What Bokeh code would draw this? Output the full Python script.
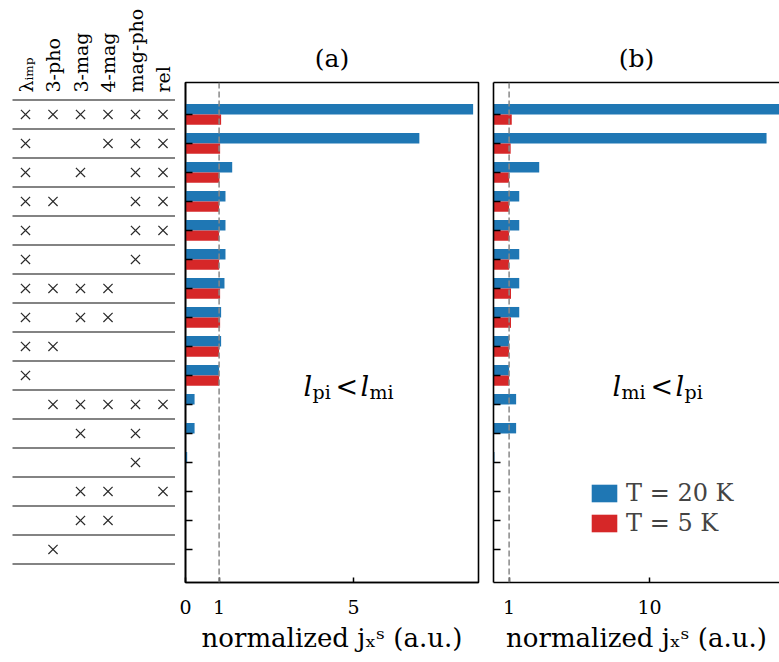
import numpy as np
from bokeh.plotting import figure
from bokeh.models import (Range1d, FixedTicker, Span, Label, Legend, LegendItem,
                          LinearAxis, ColumnDataSource, Title)
from bokeh.layouts import row
from bokeh.embed import file_html
from bokeh.resources import INLINE

# ---------------- data ----------------
mechanisms = ["λᵢₘₚ", "3-pho", "3-mag", "4-mag", "mag-pho", "rel"]
table_marks = [
    [1, 1, 1, 1, 1, 1],
    [1, 0, 0, 1, 1, 1],
    [1, 0, 1, 0, 1, 1],
    [1, 1, 0, 0, 1, 1],
    [1, 0, 0, 0, 1, 1],
    [1, 0, 0, 0, 1, 0],
    [1, 1, 1, 1, 0, 0],
    [1, 0, 1, 1, 0, 0],
    [1, 1, 0, 0, 0, 0],
    [1, 0, 0, 0, 0, 0],
    [0, 1, 1, 1, 1, 1],
    [0, 0, 1, 0, 1, 0],
    [0, 0, 0, 0, 1, 0],
    [0, 0, 1, 1, 0, 1],
    [0, 0, 1, 1, 0, 0],
    [0, 1, 0, 0, 0, 0],
]
rows = list(range(1, 17))

# panel (a): l_pi < l_mi
a_T20 = [8.56, 6.96, 1.39, 1.19, 1.19, 1.19, 1.16, 1.06, 1.06, 1.00, 0.27, 0.27, 0.05, 0, 0, 0]
a_T5 = [1.06, 1.03, 1.01, 1.00, 1.00, 1.00, 1.03, 1.03, 1.00, 1.00, 0, 0, 0, 0, 0, 0]
# panel (b): l_mi < l_pi
b_T20 = [19.0, 17.5, 2.93, 1.65, 1.65, 1.65, 1.65, 1.65, 1.00, 1.00, 1.45, 1.45, 0.06, 0, 0, 0]
b_T5 = [1.17, 1.10, 1.00, 1.00, 1.00, 1.00, 1.12, 1.12, 1.00, 1.00, 0, 0, 0, 0, 0, 0]

a_ticks = [0, 1, 5]
b_ticks = [1, 10]
legend_labels = ["T = 20 K", "T = 5 K"]
panel_titles = ["(a)", "(b)"]
x_label = "normalized jₓˢ (a.u.)"

# ---------------- style / geometry ----------------
FONT = "DejaVu Serif"
BLUE = "#1f77b4"
RED = "#d62728"
H = 662
TOP = 82
BOTTOM = 80
ROW_PX = 29.0
R_TOP = -0.10
R_BOT = R_TOP + (H - TOP - BOTTOM) / ROW_PX


def py2r(py):
    return R_TOP + (py - TOP) / ROW_PX


# ---------------- table ----------------
TW = 175
t = figure(width=TW, height=H, x_range=Range1d(0, TW), y_range=Range1d(R_BOT, R_TOP),
           x_axis_type=None, y_axis_type=None, title=None,
           min_border_left=0, min_border_right=0, min_border_top=TOP,
           min_border_bottom=BOTTOM, output_backend="svg", toolbar_location=None)
t.grid.visible = False
t.outline_line_color = None

col_x = [25 + 27.5 * j for j in range(len(mechanisms))]
line_y = [r + 0.5 for r in range(0, len(rows) + 1)]
t.segment(x0=[12] * len(line_y), x1=[TW] * len(line_y), y0=line_y, y1=line_y,
          line_color="#5a5a5a", line_width=1.5)

mx, my = [], []
for i, marks in enumerate(table_marks):
    for j, m in enumerate(marks):
        if m:
            mx.append(col_x[j])
            my.append(rows[i])
t.scatter(mx, my, marker="x", size=13, line_color="#2b2b2b", line_width=1.2)

head_ax = LinearAxis(ticker=FixedTicker(ticks=col_x),
                     major_label_overrides={c: m for c, m in zip(col_x, mechanisms)},
                     major_label_orientation=np.pi / 2,
                     major_label_text_font=FONT, major_label_text_font_size="19px",
                     major_label_text_color="black", major_label_standoff=-10,
                     major_tick_in=0, major_tick_out=0, minor_tick_in=0, minor_tick_out=0,
                     axis_line_color=None, major_tick_line_color=None,
                     minor_tick_line_color=None)
t.add_layout(head_ax, "above")


# ---------------- panels ----------------
def make_panel(width, bl, br, xmax, ticks, v20, v5, outline, title):
    p = figure(width=width, height=H, x_range=Range1d(0, xmax), y_range=Range1d(R_BOT, R_TOP),
               min_border_left=bl, min_border_right=br, min_border_top=TOP,
               min_border_bottom=BOTTOM, title=None,
               output_backend="svg", toolbar_location=None)
    p.grid.visible = False
    p.outline_line_color = "black" if outline else None
    p.outline_line_width = 1.6
    src = ColumnDataSource(dict(y20=[r - 0.18 for r in rows], y5=[r + 0.18 for r in rows],
                                v20=v20, v5=v5))
    g20 = p.hbar(y="y20", left=0, right="v20", height=0.36, source=src,
                 fill_color=BLUE, line_color=None)
    g5 = p.hbar(y="y5", left=0, right="v5", height=0.36, source=src,
                fill_color=RED, line_color=None)
    p.add_layout(Span(location=1, dimension="height", line_color="#888888",
                      line_dash="6 3", line_width=1.5))
    xa = p.xaxis[0]
    xa.ticker = FixedTicker(ticks=ticks)
    xa.major_tick_in = 5
    xa.major_tick_out = 0
    xa.minor_tick_in = 0
    xa.minor_tick_out = 0
    xa.axis_line_width = 1.6
    xa.major_tick_line_width = 1.5
    xa.major_label_text_font = FONT
    xa.major_label_text_font_size = "19px"
    xa.major_label_text_color = "black"
    xa.major_label_standoff = 17
    xa.axis_label = x_label
    xa.axis_label_text_font = FONT
    xa.axis_label_text_font_size = "26px"
    xa.axis_label_text_font_style = "normal"
    xa.axis_label_text_color = "black"
    xa.axis_label_standoff = 6
    ya = p.yaxis[0]
    ya.ticker = FixedTicker(ticks=[], minor_ticks=rows)
    ya.major_tick_in = 0
    ya.major_tick_out = 0
    ya.minor_tick_in = 7
    ya.minor_tick_out = 0
    ya.minor_tick_line_color = "black"
    ya.minor_tick_line_width = 1.5
    ya.axis_line_width = 1.6
    ya.major_label_standoff = 0
    if not outline:
        top_ax = LinearAxis(ticker=FixedTicker(ticks=[]), major_tick_in=0, major_tick_out=0,
                            minor_tick_in=0, minor_tick_out=0, axis_line_width=1.6,
                            major_label_standoff=0)
        p.add_layout(top_ax, "above")
    p.add_layout(Title(text=title, align="center", text_font=FONT, text_font_size="25px",
                       text_font_style="normal", text_color="black", standoff=20), "above")
    return p, g20, g5


A_LEFT, A_W, A_XMAX = 185, 293, 8.72
B_LEFT, B_W, B_XMAX = 493, 286, 18.33

pa, a20, a5 = make_panel(310, 10, 7, A_XMAX, a_ticks, a_T20, a_T5, True, panel_titles[0])
pb, b20, b5 = make_panel(294, 8, 0, B_XMAX, b_ticks, b_T20, b_T5, False, panel_titles[1])


def lab(p, x, y, text, size, style="normal"):
    p.add_layout(Label(x=x, y=y, text=text, text_font=FONT, text_font_size=f"{size}px",
                       text_font_style=style, text_align="left", text_baseline="alphabetic",
                       text_color="black"))


def pieces(p, left, w, xmax, items):
    for px, py, text, size, style in items:
        lab(p, (px - left) * xmax / w, py2r(py), text, size, style)


# regime annotations
pieces(pa, A_LEFT, A_W, A_XMAX, [
    (303, 386, "l", 27, "italic"),
    (312, 391, "pi", 19, "normal"),
    (335, 386, "<", 27, "normal"),
    (360, 386, "l", 27, "italic"),
    (369, 391, "mi", 19, "normal"),
])
pieces(pb, B_LEFT, B_W, B_XMAX, [
    (612, 386, "l", 27, "italic"),
    (621, 391, "mi", 19, "normal"),
    (650, 386, "<", 27, "normal"),
    (675, 386, "l", 27, "italic"),
    (684, 391, "pi", 19, "normal"),
])

legend = Legend(items=[LegendItem(label=legend_labels[0], renderers=[b20]),
                       LegendItem(label=legend_labels[1], renderers=[b5])],
                location=(95, 45), glyph_width=32, glyph_height=22,
                label_text_font=FONT, label_text_font_size="24px",
                label_height=22, spacing=2, padding=0, margin=0, label_standoff=6,
                border_line_color=None, background_fill_alpha=0)
pb.add_layout(legend)

layout = row(t, pa, pb)
open("out.html", "w").write(file_html(layout, INLINE))
